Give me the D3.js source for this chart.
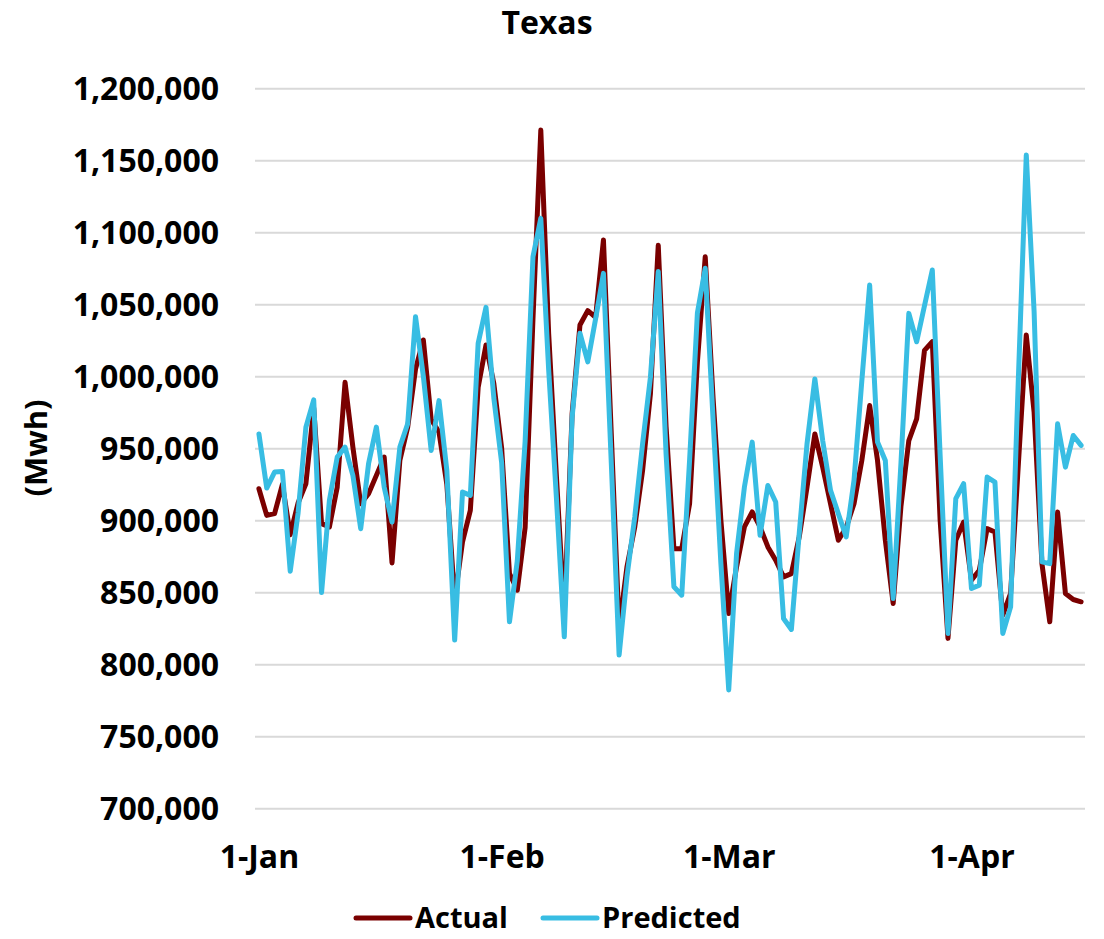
<!DOCTYPE html>
<meta charset="utf-8">
<style>
  body { margin: 0; background: #fff; }
  text { font-family: "Open Sans", Lato, sans-serif; font-weight: 700; fill: #000; }
</style>
<div id="area"></div>

<!-- Load d3.js -->
<script src="https://d3js.org/d3.v7.min.js"></script>
<script>
width = 1104
height = 939
margin = ({top: 88.3, right: 19, bottom: 130.7, left: 255})

// daily values, 1-Jan .. 15-Apr (Mwh)
start = new Date(Date.UTC(2020, 0, 1))
nDays = 106
days = d3.utcDay.range(start, d3.utcDay.offset(start, nDays))

actual = [
  921900, 903400, 904600, 925000, 890000, 912000, 925400, 978000, 897700, 895400,
  923000, 995800, 950800, 911500, 918500, 931200, 943900, 870400, 941600, 964700,
  1005000, 1025200, 970000, 961200, 925000, 845000, 885000, 906900, 992400, 1021700,
  995000, 950000, 863000, 851500, 895000, 1040000, 1171000, 1030000, 930000, 835000,
  974000, 1035600, 1045600, 1041000, 1094700, 960000, 825000, 867600, 895400, 934600,
  987800, 1091000, 965000, 880300, 880300, 911500, 1010000, 1083000, 985000, 900000,
  835300, 867600, 895400, 905800, 895400, 881500, 872300, 860700, 863000, 888400,
  923000, 960000, 936900, 911500, 886100, 895000, 911500, 941600, 979700, 941600,
  886100, 842200, 910000, 955400, 970400, 1018000, 1024000, 900000, 818000, 886100,
  898800, 858400, 865300, 894200, 891900, 834100, 849200, 940000, 1028700, 975000,
  869900, 829500, 905800, 849200, 845000, 843400
]

predicted = [
  960000, 922400, 933500, 933900, 864600, 905000, 964700, 983600, 849800, 913800,
  943900, 950800, 931200, 894200, 939200, 964700, 923000, 898800, 950800, 967000,
  1041400, 1000000, 948500, 983100, 934600, 816800, 919600, 917300, 1023000, 1047900,
  985000, 940000, 829500, 872000, 955000, 1083000, 1109700, 1005000, 915000, 819100,
  971600, 1029900, 1010000, 1040000, 1071500, 940000, 806400, 860700, 902300, 953100,
  999300, 1072700, 946000, 853800, 848000, 941600, 1044000, 1075000, 970000, 870000,
  782200, 876900, 923000, 954300, 889600, 924200, 912700, 831800, 824200, 890700,
  953100, 998200, 955400, 920800, 904600, 888400, 927700, 997000, 1063400, 954300,
  941600, 845700, 940000, 1043700, 1024000, 1049000, 1073800, 945000, 821400, 915000,
  925400, 852600, 855000, 930000, 926500, 821400, 839900, 1000000, 1153700, 1045000,
  871100, 869900, 967000, 936900, 958900, 952000
]

tickDates = ["2020-01-01", "2020-02-01", "2020-03-01", "2020-04-01"]
tickLabels = ["1-Jan", "1-Feb", "1-Mar", "1-Apr"]
yTicks = d3.range(700000, 1200001, 50000)

seriesNames = ["Actual", "Predicted"]
colors = ["#7a0000", "#38bde3"]

// points sit in the middle of each day, like a date axis in Excel
mid = d => d3.utcHour.offset(d, 12)

x = d3.scaleUtc()
    .domain([start, d3.utcDay.offset(start, nDays)])
    .range([margin.left, width - margin.right])

y = d3.scaleLinear()
    .domain([700000, 1200000])
    .range([height - margin.bottom, margin.top])

svg = d3.select("#area")
  .append("svg")
    .attr("width", width)
    .attr("height", height)
    .style("display", "block");

// gridlines + y labels
svg.append("g")
    .attr("transform", `translate(${margin.left},0)`)
    .call(d3.axisLeft(y).tickValues(yTicks).tickFormat(d3.format(","))
        .tickSize(-(width - margin.left - margin.right)).tickPadding(36))
    .call(g => g.select(".domain").remove())
    .call(g => g.selectAll(".tick line").attr("stroke", "#d9d9d9").attr("stroke-width", 2))
    .call(g => g.selectAll(".tick text")
        .attr("font-size", 32)
        .attr("font-family", null)
        .attr("dy", "0.36em"));

// x labels
svg.append("g")
    .attr("transform", `translate(0,${height - margin.bottom})`)
    .call(d3.axisBottom(x)
        .tickValues(tickDates.map(d => mid(new Date(d + "T00:00:00Z"))))
        .tickFormat((d, i) => tickLabels[i])
        .tickSize(0).tickPadding(37))
    .call(g => g.select(".domain").remove())
    .call(g => g.selectAll(".tick text")
        .attr("font-size", 32)
        .attr("font-family", null));

line = values => d3.line()
    .x((d, i) => x(mid(days[i])))
    .y(d => y(d))(values)

;[actual, predicted].forEach((vals, k) => {
  svg.append("path")
      .attr("d", line(vals))
      .attr("fill", "none")
      .attr("stroke", colors[k])
      .attr("stroke-width", 5)
      .attr("stroke-linejoin", "round")
      .attr("stroke-linecap", "round");
});

// title
svg.append("text")
    .attr("x", 547)
    .attr("y", 34)
    .attr("text-anchor", "middle")
    .attr("font-size", 32)
    .text("Texas");

// y axis title
svg.append("text")
    .attr("transform", "translate(47,448) rotate(-90)")
    .attr("text-anchor", "middle")
    .attr("font-size", 31)
    .text("(Mwh)");

// legend
legendX = [356, 543]
legend = svg.append("g")
    .selectAll("g")
    .data(seriesNames)
    .join("g")
      .attr("transform", (d, i) => `translate(${legendX[i]},918)`);

legend.append("line")
    .attr("x1", 0).attr("x2", 54)
    .attr("stroke", (d, i) => colors[i])
    .attr("stroke-width", 5)
    .attr("stroke-linecap", "round");

legend.append("text")
    .attr("x", 59)
    .attr("y", 10)
    .attr("font-size", 29)
    .text(d => d);
</script>
